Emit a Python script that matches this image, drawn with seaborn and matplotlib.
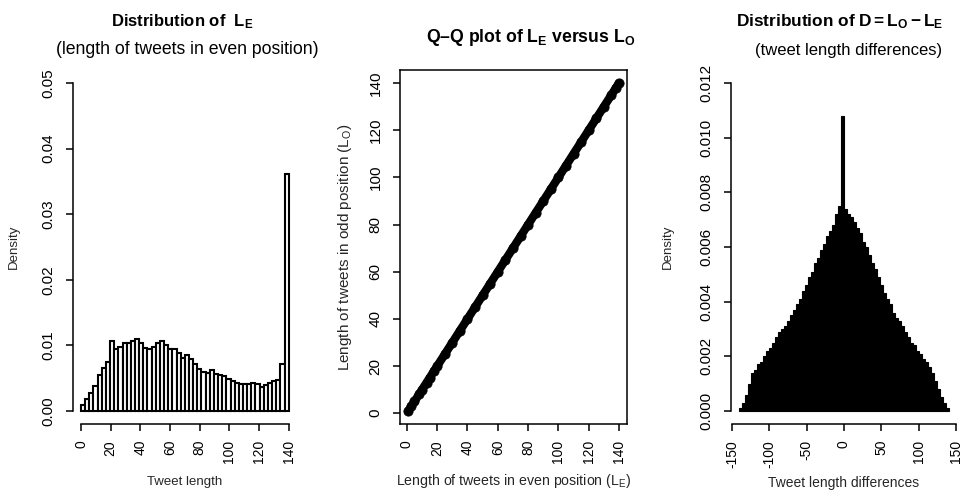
import numpy as np
import pandas as pd
import matplotlib
matplotlib.use("Agg")
import matplotlib.pyplot as plt
import seaborn as sns

# ---------------- data ----------------
# Density of even-position tweet lengths (50 bins over 0..140)
even_density = [0.0009, 0.0018, 0.0027, 0.0038, 0.0054, 0.0065, 0.0074, 0.0106, 0.0094, 0.0098,
                0.0104, 0.0104, 0.0106, 0.0109, 0.0104, 0.0096, 0.0094, 0.0098, 0.0104, 0.0106,
                0.0100, 0.0094, 0.0094, 0.0088, 0.0081, 0.0086, 0.0079, 0.0072, 0.0064, 0.0060,
                0.0058, 0.0062, 0.0057, 0.0054, 0.0053, 0.0048, 0.0046, 0.0043, 0.0041, 0.0041,
                0.0041, 0.0043, 0.0041, 0.0036, 0.0040, 0.0043, 0.0045, 0.0047, 0.0072, 0.0361]

# Density of D = L_O - L_E (70 bins over -140..140)
diff_density = [0.0001, 0.0003, 0.0006, 0.0010, 0.0014, 0.0015, 0.0017, 0.0018, 0.0020, 0.0022,
                0.0023, 0.0025, 0.0027, 0.0029, 0.0030, 0.0031, 0.0033, 0.0035, 0.0037, 0.0039,
                0.0041, 0.0044, 0.0046, 0.0049, 0.0051, 0.0054, 0.0056, 0.0059, 0.0061, 0.0064,
                0.0066, 0.0068, 0.0072, 0.0075, 0.0108, 0.0074, 0.0072, 0.0071, 0.0069, 0.0067,
                0.0065, 0.0062, 0.0060, 0.0057, 0.0054, 0.0052, 0.0049, 0.0046, 0.0043, 0.0041,
                0.0039, 0.0036, 0.0034, 0.0033, 0.0031, 0.0029, 0.0027, 0.0025, 0.0024, 0.0022,
                0.0021, 0.0019, 0.0018, 0.0016, 0.0014, 0.0011, 0.0008, 0.0005, 0.0003, 0.0001]

# Q-Q plot quantile pairs
qq_even = [1, 3, 5, 8, 10, 13, 15, 18, 20, 25, 30, 35, 40, 45, 50, 55, 60, 65, 70, 75,
           80, 85, 90, 95, 100, 105, 110, 115, 120, 125, 130, 135, 138, 140]
qq_odd = [1, 3, 5, 8, 10, 13, 15, 18, 20, 25, 30, 35, 40, 45, 50, 55, 60, 65, 70, 75,
          80, 85, 90, 95, 100, 105, 110, 115, 120, 125, 130, 135, 138, 140]

left_xticks = [0, 20, 40, 60, 80, 100, 120, 140]
left_yticks = [0.00, 0.01, 0.02, 0.03, 0.04, 0.05]
left_ylabels = ["0.00", "0.01", "0.02", "0.03", "0.04", "0.05"]
mid_ticks = [0, 20, 40, 60, 80, 100, 120, 140]
right_xticks = [-150, -100, -50, 0, 50, 100, 150]
right_xlabels = ["-150", "-100", "-50", "0", "50", "100", "150"]
right_yticks = [0.000, 0.002, 0.004, 0.006, 0.008, 0.010, 0.012]
right_ylabels = ["0.000", "0.002", "0.004", "0.006", "0.008", "0.010", "0.012"]

# ---------------- style ----------------
sns.set_theme(style="ticks")
plt.rcParams["font.family"] = ["Liberation Sans", "DejaVu Sans"]
plt.rcParams["mathtext.fontset"] = "custom"
plt.rcParams["mathtext.rm"] = "Liberation Sans"
plt.rcParams["mathtext.it"] = "Liberation Sans"
plt.rcParams["mathtext.bf"] = "Liberation Sans:bold"
plt.rcParams["axes.linewidth"] = 1.1
plt.rcParams["axes.edgecolor"] = "black"
plt.rcParams["text.color"] = "black"

W, H = 965, 491
fig = plt.figure(figsize=(W / 100, H / 100), dpi=100)
fig.patch.set_facecolor("white")

top_px, bot_px = 70, 424
AX_H = bot_px - top_px
def add_ax(x0, x1):
    return fig.add_axes([x0 / W, 1 - bot_px / H, (x1 - x0) / W, AX_H / H])

axL = add_ax(72.7, 297.0)
axM = add_ax(400.0, 627.4)
axR = add_ax(731.0, 957.0)

TICK_X = 10
TICK_Y = 11

def style_ticks(ax):
    ax.tick_params(axis="both", direction="out", length=5, width=1.1, color="black",
                   labelcolor="black")
    ax.tick_params(axis="x", pad=6.5, labelsize=TICK_X)
    ax.tick_params(axis="y", pad=7.5, labelsize=TICK_Y)

def yfrac(px):
    # axes-fraction y for a figure pixel row (measured from top)
    return (bot_px - px) / AX_H

# ---------------- left: histogram of L_E ----------------
even_edges = [float(v) for v in np.linspace(0, 140, len(even_density) + 1)]
even_centers = [(a + b) / 2 for a, b in zip(even_edges[:-1], even_edges[1:])]
dfL = pd.DataFrame({"len": even_centers, "dens": even_density})
sns.histplot(data=dfL, x="len", weights="dens", bins=even_edges, stat="count",
             color="white", edgecolor="black", linewidth=1.5, alpha=1, ax=axL)
axL.set_xlim(-5.6, 145.6)
axL.set_ylim(-0.002, 0.052)
axL.set_xticks(left_xticks, [str(t) for t in left_xticks], rotation=90)
axL.set_yticks(left_yticks, left_ylabels, rotation=90, va="center")
for s in ["top", "right"]:
    axL.spines[s].set_visible(False)
axL.spines["left"].set_bounds(0, 0.05)
axL.spines["bottom"].set_bounds(0, 140)
style_ticks(axL)
axL.set_xlabel("Tweet length", fontsize=9.5, va="center")
axL.set_ylabel("Density", fontsize=9.5, va="center")
axL.xaxis.set_label_coords(0.5, yfrac(482))
axL.yaxis.set_label_coords(-0.262, 0.5)
axL.text(0.49, yfrac(22), r"Distribution of  $\mathbf{L_E}$", transform=axL.transAxes,
         ha="center", va="center", fontsize=12, fontweight="bold")
axL.text(0.51, yfrac(50), "(length of tweets in even position)", transform=axL.transAxes,
         ha="center", va="center", fontsize=12.7)

# ---------------- middle: Q-Q plot ----------------
dfM = pd.DataFrame({"even": qq_even, "odd": qq_odd})
sns.lineplot(data=dfM, x="even", y="odd", color="black", linewidth=6,
             solid_capstyle="round", ax=axM)
sns.scatterplot(data=dfM, x="even", y="odd", color="black", s=45, edgecolor="black",
                ax=axM)
axM.set_xlim(-4.56, 145.56)
axM.set_ylim(-4.56, 145.56)
axM.set_xticks(mid_ticks, [str(t) for t in mid_ticks], rotation=90)
axM.set_yticks(mid_ticks, [str(t) for t in mid_ticks], rotation=90, va="center")
style_ticks(axM)
axM.set_xlabel(r"Length of tweets in even position ($\mathregular{L_E}$)", fontsize=10.2,
               va="center")
axM.set_ylabel(r"Length of tweets in odd position ($\mathregular{L_O}$)", fontsize=11,
               va="center")
axM.xaxis.set_label_coords(0.5, yfrac(481))
axM.yaxis.set_label_coords(-0.242, 0.5)
axM.text(0.575, yfrac(38), r"Q–Q plot of $\mathbf{L_E}$ versus $\mathbf{L_O}$",
         transform=axM.transAxes, ha="center", va="center", fontsize=12.7, fontweight="bold")

# ---------------- right: histogram of D ----------------
diff_edges = [float(v) for v in np.linspace(-140, 140, len(diff_density) + 1)]
diff_centers = [(a + b) / 2 for a, b in zip(diff_edges[:-1], diff_edges[1:])]
dfR = pd.DataFrame({"d": diff_centers, "dens": diff_density})
sns.histplot(data=dfR, x="d", weights="dens", bins=diff_edges, stat="count",
             color="black", edgecolor="black", linewidth=0.8, alpha=1, ax=axR)
axR.set_xlim(-151.2, 151.2)
axR.set_ylim(-0.00048, 0.01248)
axR.set_xticks(right_xticks, right_xlabels, rotation=90)
axR.set_yticks(right_yticks, right_ylabels, rotation=90, va="center")
for s in ["top", "right"]:
    axR.spines[s].set_visible(False)
axR.spines["left"].set_bounds(0, 0.012)
axR.spines["bottom"].set_bounds(-150, 150)
style_ticks(axR)
axR.set_xlabel("Tweet length differences", fontsize=10, va="center")
axR.set_ylabel("Density", fontsize=9.5, va="center")
axR.xaxis.set_label_coords(0.5, yfrac(483))
axR.yaxis.set_label_coords(-0.279, 0.5)
axR.text(0.48, yfrac(22), r"Distribution of $\mathbf{D = L_O - L_E}$", transform=axR.transAxes,
         ha="center", va="center", fontsize=12.4, fontweight="bold")
axR.text(0.52, yfrac(50), "(tweet length differences)", transform=axR.transAxes,
         ha="center", va="center", fontsize=12)

fig.savefig("out.png", dpi=100, facecolor="white")
